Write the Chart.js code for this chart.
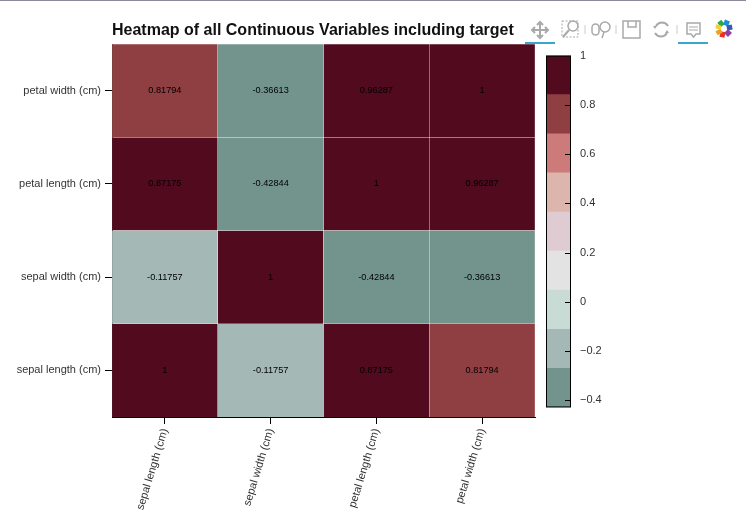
<!DOCTYPE html>
<html>
<head>
<meta charset="utf-8">
<script src="https://cdn.jsdelivr.net/npm/chart.js@4"></script>
<style>
    html, body { margin: 0; padding: 0; background: #fff; }
    #page { position: relative; width: 746px; height: 517px; overflow: hidden; border-top: 1px solid #8a8a98; box-sizing: border-box; }
    #title { position: absolute; left: 112px; top: 20px; font: bold 16px "Liberation Sans", Arial, sans-serif; color: #111; white-space: nowrap; }
    #mainCanvas, #barCanvas, #tools { position: absolute; }
    #mainCanvas { left: 0; top: -1px; }
    #barCanvas { left: 536px; top: 39px; }
    #tools { left: 0; top: -1px; }
</style>
</head>
<body>
<div id="page">
    <canvas id="mainCanvas" width="540" height="517"></canvas>
    <canvas id="barCanvas" width="90" height="383"></canvas>
    <div id="title">Heatmap of all Continuous Variables including target</div>
    <svg id="tools" width="746" height="60" fill="none" stroke="#a9a9a9" stroke-width="1.5">
        <!-- bokeh style toolbar -->
        <path d="M532 30h16M540 22v16M537 25l3-3 3 3M537 35l3 3 3-3M535 27l-3 3 3 3M545 27l3 3-3 3" stroke-width="2"/>
        <rect x="562" y="21" width="16" height="16" stroke-dasharray="2 1.5" stroke-width="1"/>
        <circle cx="573" cy="26" r="5"/>
        <path d="M569 30l-6 7" stroke-width="2"/>
        <path d="M585 25v9M616 25v9M677 25v9" stroke-width="1" stroke="#ccc"/>
        <rect x="592" y="24" width="7" height="11" rx="3.5"/>
        <circle cx="605" cy="27" r="5"/>
        <path d="M604 32l-2 6"/>
        <rect x="623" y="21" width="17" height="17"/>
        <path d="M628 21v6h8v-6"/>
        <path d="M668 26a7 7 0 0 0-12 0M655 33a7 7 0 0 0 12 0" stroke-width="2"/>
        <path d="M657 26h-4l2 3zM665 33h4l-2-3z" fill="#a9a9a9" stroke="none"/>
        <path d="M687 23h13v11h-4l-2.500 3-2.500-3h-4z"/>
        <path d="M689 27h9M689 30h9" stroke-width="1"/>
        <g stroke-width="5.5">
            <path d="M719 25l4-3" stroke="#2aa84a"/>
            <path d="M724 22l5 2" stroke="#1f8fd0"/>
            <path d="M729 25l1 5" stroke="#3c58b5"/>
            <path d="M730 31l-4 4" stroke="#8e3fa8"/>
            <path d="M725 35l-5-1" stroke="#e2342d"/>
            <path d="M720 34l-2-4" stroke="#f0a020"/>
            <path d="M718 29l1-4" stroke="#f6d02e"/>
        </g>
        <path d="M525 43h30M678 43h30" stroke="#3aa6d0" stroke-width="2"/>
    </svg>
</div>
<script>
// --- Data ---
const varNames = ['sepal length (cm)', 'sepal width (cm)', 'petal length (cm)', 'petal width (cm)'];
const sepalLengthRow = [1, -0.11757, 0.87175, 0.81794];
const sepalWidthRow = [-0.11757, 1, -0.42844, -0.36613];
const petalLengthRow = [0.87175, -0.42844, 1, 0.96287];
const petalWidthRow = [0.81794, -0.36613, 0.96287, 1];
const corrRows = [sepalLengthRow, sepalWidthRow, petalLengthRow, petalWidthRow];

const binEdges = [-0.42844, -0.26973, -0.11102, 0.04769, 0.2064, 0.36511, 0.52382, 0.68253, 0.84124, 1];
const palette = ['#73948c', '#a4b9b5', '#c9dbd5', '#e3e3e3', '#dfccd2', '#dcb5ac', '#cc7a7a', '#8f3e42', '#520a1e'];
const colorbarTicks = [-0.4, -0.2, 0, 0.2, 0.4, 0.6, 0.8, 1];

const FONT = '"Liberation Sans", Arial, sans-serif';

function colorFor(val) {
    for (let i = 0; i < palette.length; i++) {
        if (val < binEdges[i + 1]) return palette[i];
    }
    return palette[palette.length - 1];
}

// prints the correlation in the middle of each cell
const cellLabels = {
    id: 'cellLabels',
    afterDatasetsDraw(chart) {
        const ctx = chart.ctx;
        ctx.save();
        ctx.font = '9.2px ' + FONT;
        ctx.fillStyle = '#000';
        ctx.textAlign = 'center';
        ctx.textBaseline = 'middle';
        corrRows.forEach((row, r) => {
            row.forEach((val, c) => {
                ctx.fillText(String(val), chart.scales.x.getPixelForValue(c), chart.scales.y.getPixelForValue(r + 0.5));
            });
        });
        ctx.restore();
    }
};

new Chart(document.getElementById('mainCanvas'), {
    type: 'bar',
    data: {
        labels: varNames,
        datasets: corrRows.map((row, r) => ({
            label: varNames[r],
            data: row.map(() => 1),
            backgroundColor: row.map(colorFor),
            borderColor: 'rgba(255,255,255,0.35)',
            borderWidth: 0.5,
            barPercentage: 1,
            categoryPercentage: 1
        }))
    },
    options: {
        responsive: false,
        animation: false,
        layout: { padding: { top: 44, right: 5 } },
        plugins: { legend: { display: false }, tooltip: { enabled: false } },
        scales: {
            x: {
                stacked: true,
                afterFit: s => { s.height = 100; },
                grid: { offset: false, drawOnChartArea: false, tickLength: 7, tickColor: '#000' },
                border: { color: '#000', width: 1 },
                ticks: { autoSkip: false, minRotation: 73, maxRotation: 73, color: '#333', padding: 3, font: { size: 11, family: FONT } }
            },
            y: {
                stacked: true,
                min: 0,
                max: 4,
                afterFit: s => { s.width = 112; },
                afterBuildTicks: s => { s.ticks = varNames.map((n, i) => ({ value: i + 0.5 })); },
                grid: { drawOnChartArea: false, tickLength: 7, tickColor: '#000' },
                border: { color: '#000', width: 1 },
                ticks: {
                    color: '#333',
                    padding: 4,
                    font: { size: 11, family: FONT },
                    callback: v => varNames[Math.floor(v)]
                }
            }
        }
    },
    plugins: [cellLabels]
});

// frame and inner ticks of the colorbar
const colorbarFrame = {
    id: 'colorbarFrame',
    afterDatasetsDraw(chart) {
        const ctx = chart.ctx;
        const a = chart.chartArea;
        ctx.save();
        ctx.strokeStyle = '#000';
        ctx.lineWidth = 1;
        ctx.strokeRect(a.left + 0.5, a.top + 0.5, a.right - a.left - 1, a.bottom - a.top - 1);
        colorbarTicks.slice(0, -1).forEach(t => {
            const y = Math.round(chart.scales.y.getPixelForValue(t)) + 0.5;
            ctx.beginPath();
            ctx.moveTo(a.right - 6, y);
            ctx.lineTo(a.right, y);
            ctx.stroke();
        });
        ctx.restore();
    }
};

new Chart(document.getElementById('barCanvas'), {
    type: 'bar',
    data: {
        labels: [''],
        datasets: palette.map((col, i) => ({
            data: [[binEdges[i], binEdges[i + 1]]],
            backgroundColor: col,
            borderWidth: 0,
            barPercentage: 1,
            categoryPercentage: 1,
            grouped: false
        }))
    },
    options: {
        responsive: false,
        animation: false,
        layout: { padding: { top: 15, bottom: 0, left: 10 } },
        plugins: { legend: { display: false }, tooltip: { enabled: false } },
        scales: {
            x: { display: false },
            y: {
                position: 'right',
                min: binEdges[0],
                max: 1,
                afterFit: s => { s.width = 55; },
                afterBuildTicks: s => { s.ticks = colorbarTicks.map(v => ({ value: v })); },
                grid: { display: false, drawTicks: false },
                border: { display: false },
                ticks: {
                    color: '#333',
                    padding: 9,
                    font: { size: 11, family: FONT },
                    callback: v => String(v).replace('-', '\u2212')
                }
            }
        }
    },
    plugins: [colorbarFrame]
});
</script>
</body>
</html>
